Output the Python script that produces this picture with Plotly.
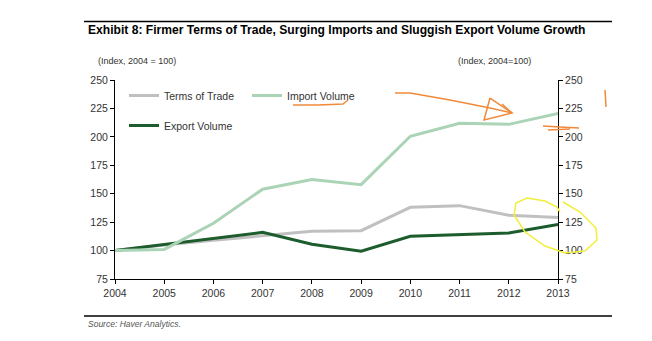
import plotly.graph_objects as go

years = [2004, 2005, 2006, 2007, 2008, 2009, 2010, 2011, 2012, 2013]
terms_of_trade = [100, 105, 109, 113, 117, 117.5, 138, 139.5, 131, 129]
import_volume = [100, 101, 124, 154, 162.5, 158, 200.5, 212, 211, 220.5]
export_volume = [100, 105.5, 110.5, 116, 105.5, 99.5, 112.5, 114, 115.5, 123]
y_ticks = [75, 100, 125, 150, 175, 200, 225, 250]

W, H = 652, 341
L, R, T, B = 115, 558, 80, 279


def px(x):
    return (x - L) / (R - L)


def py(y):
    return (B - y) / (B - T)


def path(points):
    return "M " + " L ".join(f"{px(x):.4f},{py(y):.4f}" for x, y in points)


fig = go.Figure()
fig.add_trace(go.Scatter(x=years, y=terms_of_trade, name="Terms of Trade", mode="lines",
                         line=dict(color="#c0c0c0", width=3), legend="legend"))
fig.add_trace(go.Scatter(x=years, y=import_volume, name="Import Volume", mode="lines",
                         line=dict(color="#abd3b5", width=3), legend="legend", yaxis="y2"))
fig.add_trace(go.Scatter(x=years, y=export_volume, name="Export Volume", mode="lines",
                         line=dict(color="#1d5c2c", width=3), legend="legend2"))

font = "Liberation Sans, Arial, sans-serif"
axis_common = dict(range=[75, 250], tickvals=y_ticks, ticks="outside", ticklen=4,
                   showline=True, linecolor="black", linewidth=1, showgrid=False,
                   zeroline=False, tickfont=dict(size=10.5, color="#333"), tickcolor="black")

fig.update_layout(
    width=W, height=H, margin=dict(l=L, r=W - R, t=T, b=H - B),
    paper_bgcolor="white", plot_bgcolor="white",
    font=dict(family=font, color="#333"),
    xaxis=dict(range=[2004, 2013], tickvals=years, ticks="outside", ticklen=4,
               showline=True, linecolor="black", linewidth=1, showgrid=False,
               zeroline=False, tickfont=dict(size=10.5, color="#333"), tickcolor="black"),
    yaxis=dict(**axis_common),
    yaxis2=dict(**axis_common, overlaying="y", side="right"),
    legend=dict(orientation="h", x=px(124), y=py(81), xanchor="left", yanchor="top",
                font=dict(size=10.5, color="#333"), bgcolor="rgba(0,0,0,0)",
                itemwidth=30, tracegroupgap=0, entrywidth=78),
    legend2=dict(orientation="h", x=px(124), y=py(111), xanchor="left", yanchor="top",
                 font=dict(size=10.5, color="#333"), bgcolor="rgba(0,0,0,0)", itemwidth=30),
    showlegend=True,
)

fig.add_annotation(text="<b>Exhibit 8: Firmer Terms of Trade, Surging Imports and Sluggish Export Volume Growth</b>",
                   x=px(86), y=py(30), xref="paper", yref="paper", xanchor="left", yanchor="middle",
                   showarrow=False, font=dict(size=12.1, color="black", family=font))
fig.add_annotation(text="(Index, 2004 = 100)", x=px(96), y=py(61), xref="paper", yref="paper",
                   xanchor="left", yanchor="middle", showarrow=False, font=dict(size=9, color="#333"))
fig.add_annotation(text="(Index, 2004=100)", x=px(456), y=py(61), xref="paper", yref="paper",
                   xanchor="left", yanchor="middle", showarrow=False, font=dict(size=9, color="#333"))
fig.add_annotation(text="<i>Source: Haver Analytics.</i>", x=px(86), y=py(324), xref="paper", yref="paper",
                   xanchor="left", yanchor="middle", showarrow=False, font=dict(size=8.5, color="#555"))

for yy in (21.5, 316):
    fig.add_shape(type="line", xref="paper", yref="paper", x0=px(84), x1=px(612), y0=py(yy), y1=py(yy),
                  line=dict(color="black", width=1.5))

orange = dict(color="#f08a3a", width=1.5)
scribbles = [
    [(293, 105), (318, 105), (343, 104), (348, 100)],
    [(395, 93), (410, 93), (450, 100), (490, 108), (512, 113)],
    [(490, 98), (484, 120), (512, 113), (490, 98)],
    [(502, 104), (512, 113)],
    [(543, 126), (560, 127), (579, 128)],
    [(548, 130), (570, 129)],
    [(605, 90), (606, 107)],
]
for pts in scribbles:
    fig.add_shape(type="path", xref="paper", yref="paper", path=path(pts), line=orange)

yellow = [(563, 202), (580, 212), (596, 228), (597, 240), (585, 251), (565, 253), (545, 246),
          (525, 232), (514, 215), (516, 203), (527, 198), (545, 201), (557, 207), (560, 212)]
fig.add_shape(type="path", xref="paper", yref="paper", path=path(yellow),
              line=dict(color="#f2ee3a", width=1.5))

fig.write_html("out.html")
